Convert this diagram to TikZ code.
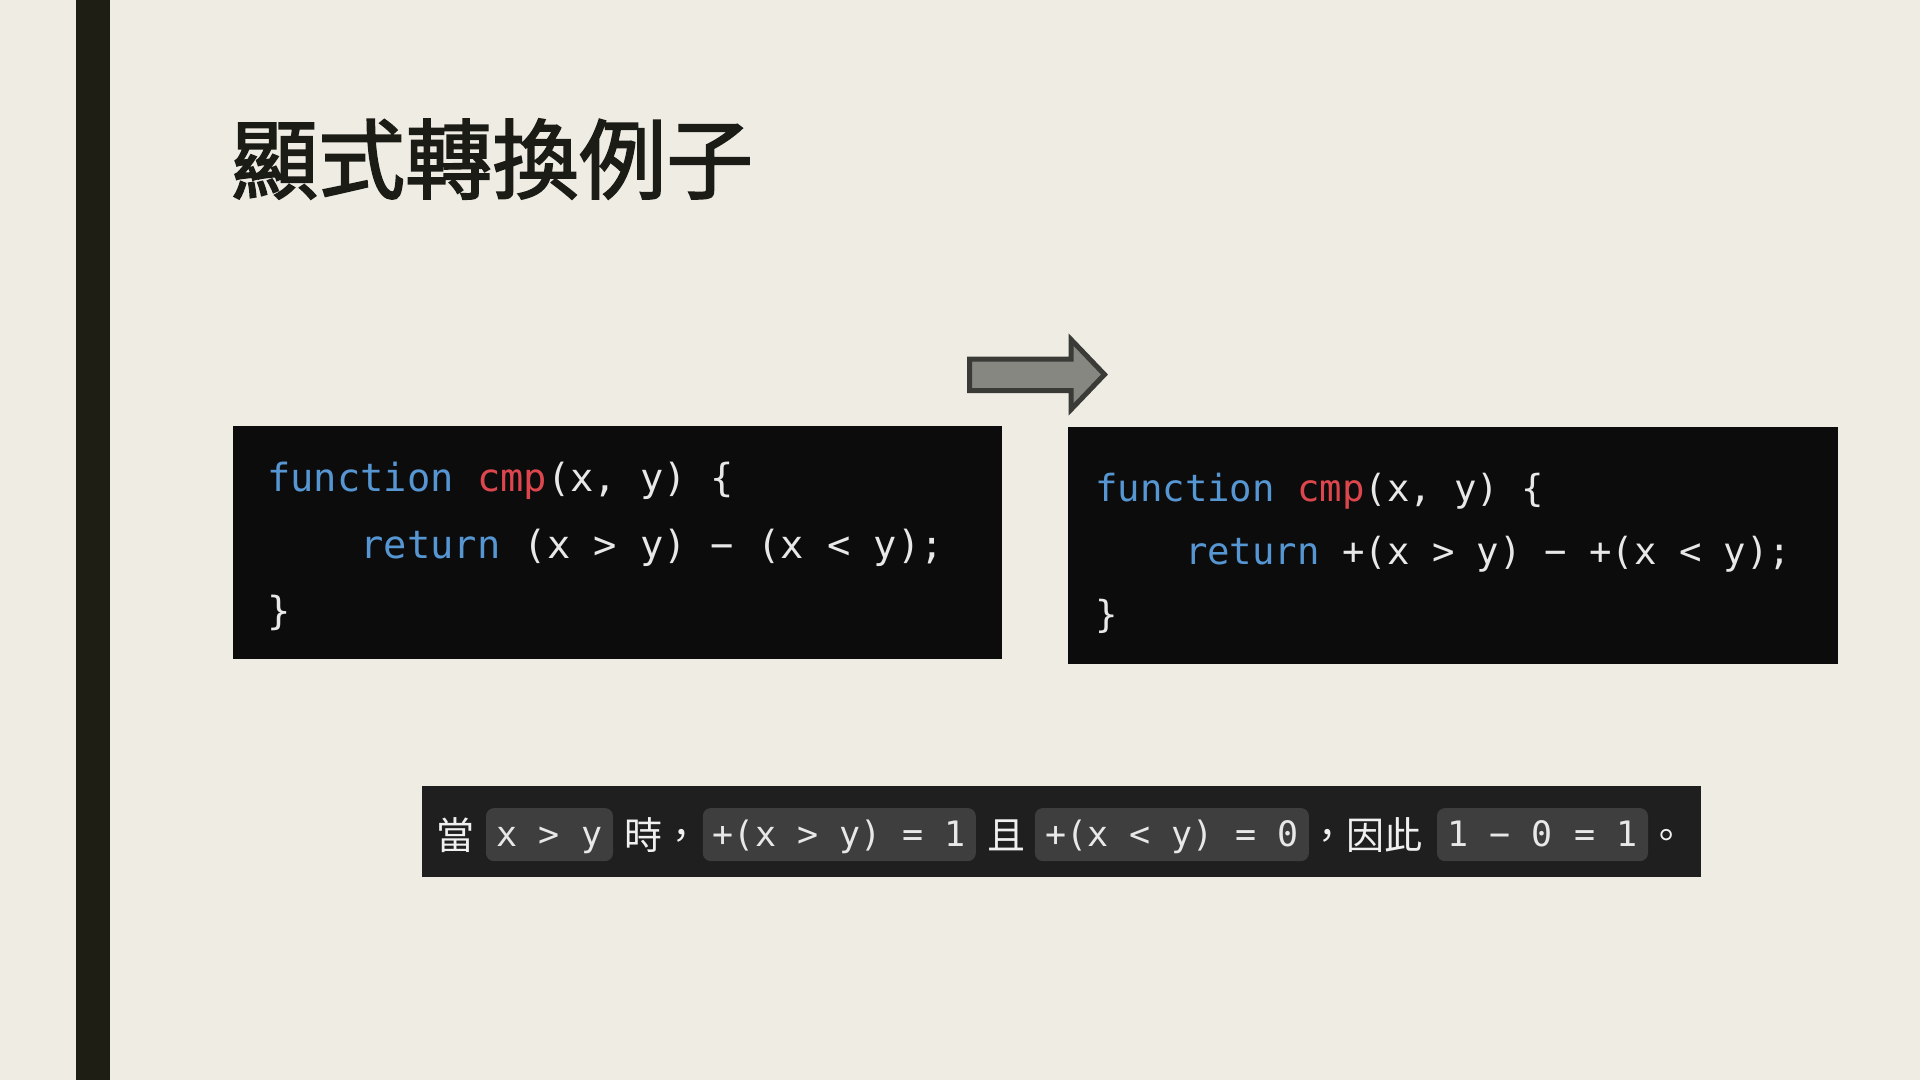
\documentclass[tikz,border=0pt]{standalone}
\usepackage{fontspec}
\setmonofont{DejaVu Sans Mono}
\newfontfamily\cjk{Noto Sans CJK TC}
\newfontfamily\cjktitle[FakeBold=2]{Noto Sans CJK TC}
\definecolor{slidebg}{RGB}{239,236,228}
\definecolor{barcol}{RGB}{30,30,20}
\definecolor{titlecol}{RGB}{28,28,22}
\definecolor{codebg}{RGB}{12,12,12}
\definecolor{codefg}{RGB}{232,232,232}
\definecolor{kwblue}{RGB}{86,150,210}
\definecolor{fnred}{RGB}{222,70,78}
\definecolor{notebg}{RGB}{31,31,31}
\definecolor{chipbg}{RGB}{62,62,62}
\definecolor{arrowfill}{RGB}{135,135,130}
\definecolor{arrowline}{RGB}{58,58,54}
\tikzset{
  panel/.style={fill=#1, draw=none, inner sep=0pt, outer sep=0pt, anchor=north west},
  codeL/.style={anchor=base west, inner sep=0pt, text=codefg, font=\ttfamily\fontsize{38.75bp}{46bp}\selectfont},
  codeR/.style={anchor=base west, inner sep=0pt, text=codefg, font=\ttfamily\fontsize{37.3bp}{44bp}\selectfont},
  chip/.style={fill=chipbg, rounded corners=8bp, inner sep=0pt, outer sep=0pt, minimum height=53bp,
    text height=26bp, text depth=3.2bp, text=codefg, font=\ttfamily\fontsize{35bp}{42bp}\selectfont},
  notetext/.style={anchor=base west, inner sep=0pt, text=white!94!black, font=\cjk\fontsize{38bp}{44bp}\selectfont},
  bigarrow/.style={fill=arrowfill, draw=arrowline, line width=5bp, line join=miter}
}
\newcommand{\kw}[1]{\textcolor{kwblue}{#1}}
\newcommand{\fn}[1]{\textcolor{fnred}{#1}}
\begin{document}
\begin{tikzpicture}[x=1bp,y=-1bp]
\useasboundingbox (0,0) rectangle (1920,1080);
\fill[slidebg] (0,0) rectangle (1920,1080);
\fill[barcol] (76,0) rectangle (110,1080);

% title
\node[anchor=base west, inner sep=0pt, text=titlecol, font=\cjktitle\fontsize{87bp}{100bp}\selectfont] (title) at (231,192) {顯式轉換例子};

% left code box
\node[panel=codebg, minimum width=769bp, minimum height=233bp] (boxL) at (233,426) {};
\node[codeL] (l1) at (267,491) {\kw{function} \fn{cmp}(x, y) \{};
\node[codeL] (l2) at (360.3,558) {\kw{return} (x > y) − (x < y);};
\node[codeL] (l3) at (267,624) {\}};

% right code box
\node[panel=codebg, minimum width=770bp, minimum height=237bp] (boxR) at (1068,427) {};
\node[codeR] (r1) at (1095,501) {\kw{function} \fn{cmp}(x, y) \{};
\node[codeR] (r2) at (1184.8,564) {\kw{return} +(x > y) − +(x < y);};
\node[codeR] (r3) at (1095,627) {\}};

% arrow
\draw[bigarrow] (969.5,359) -- (1071,359) -- (1071,339.5) -- (1104.5,374.5) -- (1071,409.5) -- (1071,390.5) -- (969.5,390.5) -- cycle;

% bottom note bar
\node[panel=notebg, minimum width=1279bp, minimum height=91bp] (note) at (422,786) {};
\node[notetext] (t1) at (436,849) {當};
\node[chip, minimum width=127bp] (c1) at (549.5,834.6) {x > y};
\node[notetext] (t2) at (624.4,849) {時，};
\node[chip, minimum width=273bp] (c2) at (839.3,834.6) {+(x > y) = 1};
\node[notetext] (t3) at (987,849) {且};
\node[chip, minimum width=274bp] (c3) at (1171.9,834.6) {+(x < y) = 0};
\node[notetext] (t4) at (1308,849) {，因此};
\node[chip, minimum width=211bp] (c4) at (1542.5,834.6) {1 − 0 = 1};
\node[notetext] (t5) at (1647,849) {。};
\end{tikzpicture}
\end{document}
